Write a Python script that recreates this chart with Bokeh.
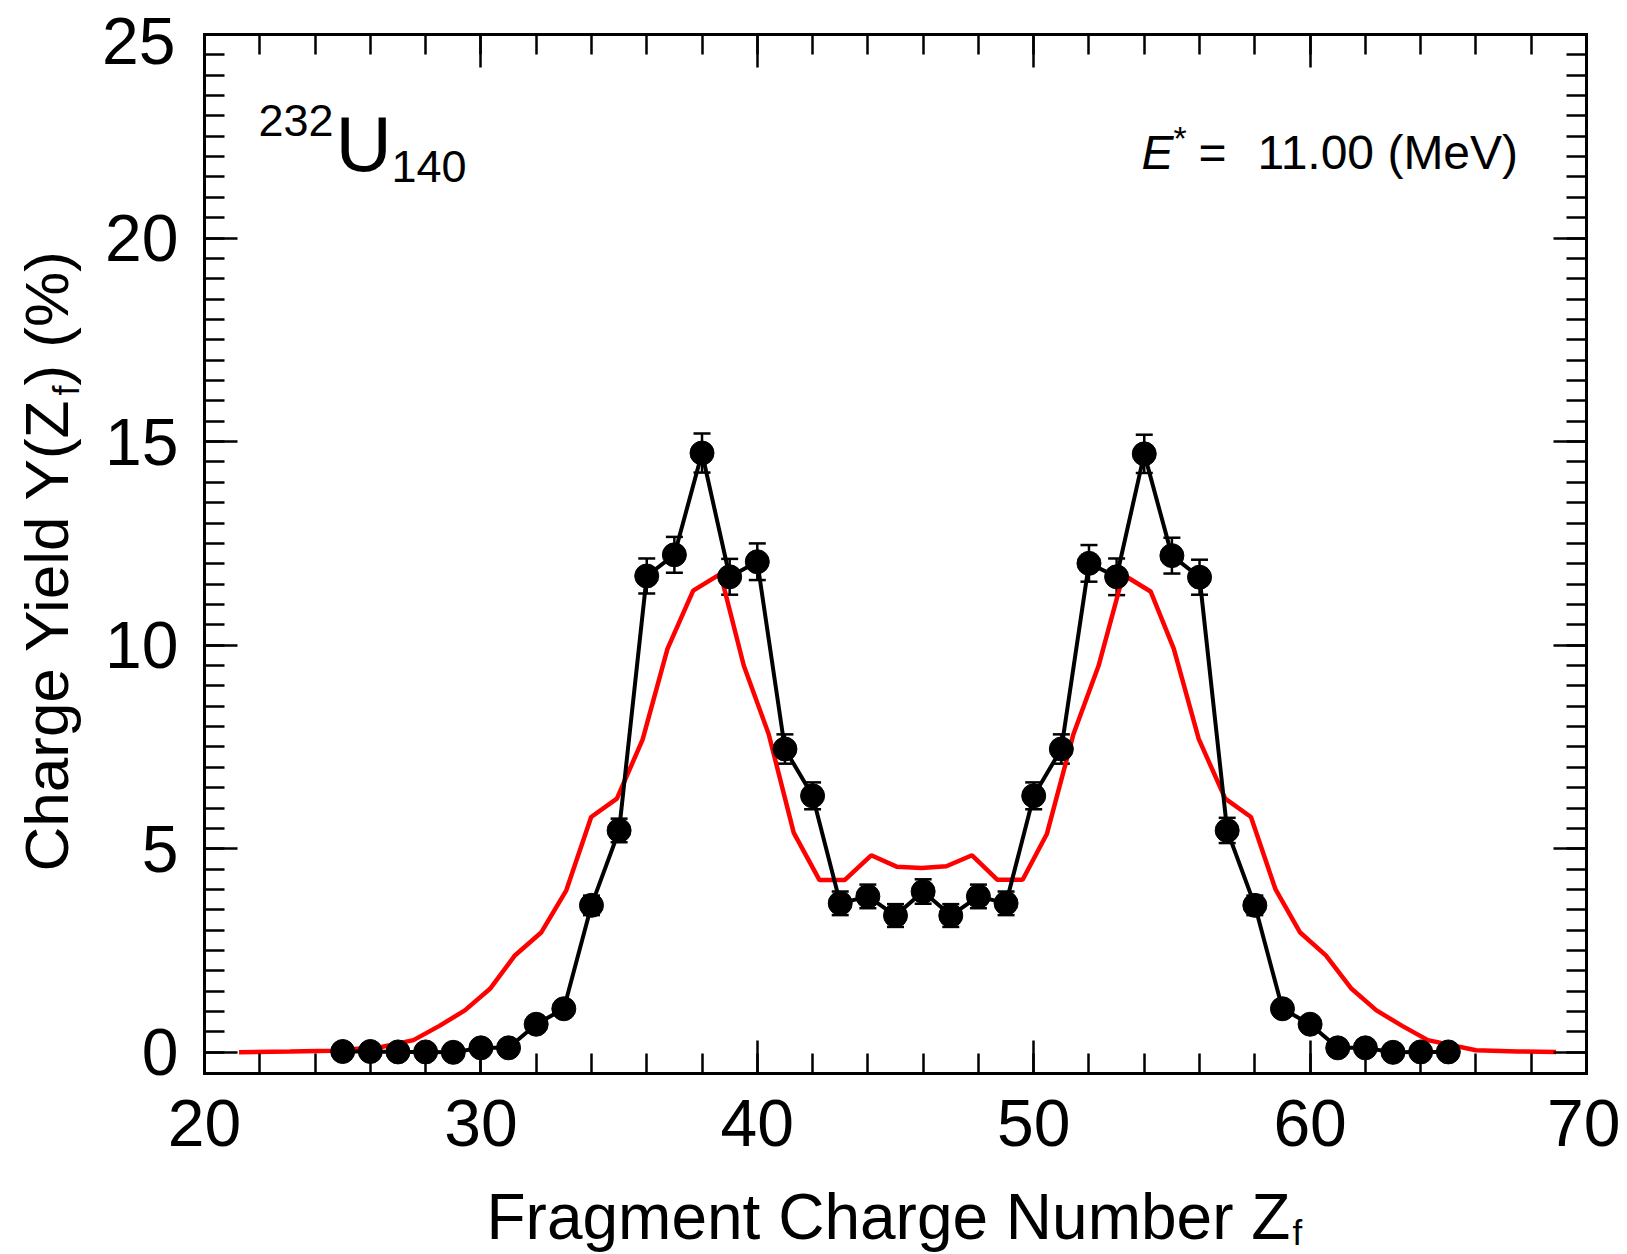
import numpy as np
from bokeh.plotting import figure
from bokeh.models import (FixedTicker, LinearAxis, Label, Whisker, TeeHead,
                          ColumnDataSource, Range1d)
from bokeh.embed import file_html
from bokeh.resources import INLINE

# ---------------- data ----------------
z_exp = list(range(25, 66))
y_exp = [0.02, 0.02, 0.01, 0.01, 0.0, 0.11, 0.11, 0.69, 1.07, 3.61, 5.45,
         11.70, 12.22, 14.72, 11.68, 12.05, 7.45, 6.30, 3.66, 3.83, 3.36,
         3.95, 3.36, 3.83, 3.66, 6.30, 7.45, 12.01, 11.68, 14.70, 12.20,
         11.67, 5.45, 3.61, 1.07, 0.69, 0.11, 0.11, 0.0, 0.01, 0.01]
err_exp = [0.01, 0.01, 0.01, 0.01, 0.01, 0.03, 0.03, 0.08, 0.10, 0.24, 0.29,
           0.43, 0.44, 0.48, 0.44, 0.45, 0.36, 0.33, 0.29, 0.29, 0.28,
           0.30, 0.28, 0.29, 0.29, 0.33, 0.36, 0.45, 0.45, 0.47, 0.44,
           0.43, 0.31, 0.24, 0.10, 0.08, 0.03, 0.03, 0.01, 0.01, 0.01]

z_calc = [21.25, 23.1, 24.6, 26.4, 27.56, 28.5, 29.42, 30.33, 31.23, 32.19,
          33.09, 33.99, 34.92, 35.85, 36.75, 37.68, 38.67, 39.51, 40.41,
          41.32, 42.25, 43.16, 44.12, 45.04, 45.94, 46.84, 47.77, 48.68,
          49.60, 50.48, 51.44, 52.35, 53.24, 54.23, 55.07, 55.97, 56.93,
          57.86, 58.75, 59.63, 60.57, 61.50, 62.40, 63.33, 64.26, 66.0,
          67.5, 68.9]
y_calc = [0.0, 0.02, 0.04, 0.13, 0.30, 0.65, 1.03, 1.56, 2.38, 2.95,
          3.98, 5.78, 6.23, 7.68, 9.91, 11.34, 11.75, 9.50, 7.82,
          5.39, 4.23, 4.23, 4.84, 4.56, 4.53, 4.57, 4.84, 4.24,
          4.24, 5.37, 7.82, 9.50, 11.73, 11.32, 9.91, 7.70, 6.23,
          5.78, 4.00, 2.95, 2.38, 1.56, 1.03, 0.65, 0.30, 0.05,
          0.02, 0.01]

x_major = [20, 30, 40, 50, 60, 70]
x_minor = list(range(20, 71, 2))
y_major = [0, 5, 10, 15, 20, 25]
y_minor = [v * 0.5 for v in range(0, 51)]

X0, X1 = 20, 70
Y0, Y1 = -0.52, 25

# ---------------- layout (page pixels) ----------------
W, H = 1620, 1254
L, R, T, B = 204, 1586, 34, 1073   # plot box on the page


def dx(px):
    return X0 + (px - L) / (R - L) * (X1 - X0)


def dy(py):
    return Y0 + (B - py) / (B - T) * (Y1 - Y0)


FONT = "Liberation Sans"
MID = 0.37   # baseline lies this many em below the text's middle

p = figure(width=W, height=H,
           x_range=Range1d(dx(0), dx(W)), y_range=Range1d(dy(H), dy(0)),
           output_backend="svg", toolbar_location=None,
           x_axis_location=None, y_axis_location=None,
           min_border=0, min_border_left=0, min_border_right=0,
           min_border_top=0, min_border_bottom=0,
           background_fill_color="white", border_fill_color="white")
p.xgrid.visible = False
p.ygrid.visible = False
p.outline_line_color = None


def make_axis(place, loc, bounds, ticks, minor, labels, standoff=0):
    ax = LinearAxis(fixed_location=loc, bounds=bounds)
    ax.ticker = FixedTicker(ticks=ticks, minor_ticks=minor)
    ax.axis_line_width = 3
    ax.axis_line_color = "black"
    ax.axis_line_cap = "square"
    ax.major_tick_in = 33
    ax.major_tick_out = 0
    ax.minor_tick_in = 20
    ax.minor_tick_out = 0
    ax.major_tick_line_width = 2.5
    ax.minor_tick_line_width = 2.5
    ax.major_tick_line_color = "black"
    ax.minor_tick_line_color = "black"
    if labels:
        ax.major_label_text_font = FONT
        ax.major_label_text_font_size = "66px"
        ax.major_label_text_color = "black"
        ax.major_label_standoff = standoff
    else:
        ax.major_label_text_color = None
    p.add_layout(ax, place)
    return ax


make_axis("below", Y0, (X0, X1), x_major, x_minor, True, 26)
make_axis("left", X0, (Y0, Y1), y_major[:-1], y_minor, True, 26)
make_axis("right", X1, (Y0, Y1), y_major, y_minor, False)
make_axis("above", Y1, (X0, X1), x_major, x_minor, False)

# ---------------- series ----------------
p.line(z_calc, y_calc, line_color="#ff0000", line_width=4.5)

src = ColumnDataSource(dict(
    x=z_exp, y=y_exp,
    upper=[a + b for a, b in zip(y_exp, err_exp)],
    lower=[a - b for a, b in zip(y_exp, err_exp)]))
wh = Whisker(source=src, base="x", upper="upper", lower="lower",
             line_color="black", line_width=2.5,
             upper_head=TeeHead(size=17, line_width=2.5, line_color="black"),
             lower_head=TeeHead(size=17, line_width=2.5, line_color="black"))
p.add_layout(wh)
p.line("x", "y", source=src, line_color="black", line_width=4)
p.scatter("x", "y", source=src, size=24, marker="circle",
          fill_color="black", line_color="black")


# ---------------- texts ----------------
def lab(text, px, py, size, style="normal", vertical=False, align="left"):
    """px, py: start of the text's baseline on the page."""
    if vertical:
        ax_, ay_, ang = px - MID * size, py, np.pi / 2
    else:
        ax_, ay_, ang = px, py - MID * size, 0.0
    p.add_layout(Label(x=dx(ax_), y=dy(ay_), text=text, text_font=FONT,
                       text_font_size=f"{size}px", text_font_style=style,
                       text_color="black", text_align=align,
                       text_baseline="middle", angle=ang))


# top y tick label, nudged inside the page as in the original
lab(str(y_major[-1]), 175, 65, 66, align="right")

lab("232", 258, 137, 45)
lab("U", 335, 172, 78)
lab("140", 391, 183, 45)

lab("E", 1141, 170, 48, "italic")
lab("*", 1173, 150, 34)
lab("=", 1198, 170, 48)
lab("11.00 (MeV)", 1257, 170, 48)

lab("Fragment Charge Number Z", 486, 1240, 64)
lab("f", 1292, 1245, 35)

lab("Charge Yield Y(Z", 69, 871, 62, vertical=True)
lab("f", 79, 395, 36, vertical=True)
lab(") (%)", 69, 385, 62, vertical=True)

open("out.html", "w").write(file_html(p, INLINE))
